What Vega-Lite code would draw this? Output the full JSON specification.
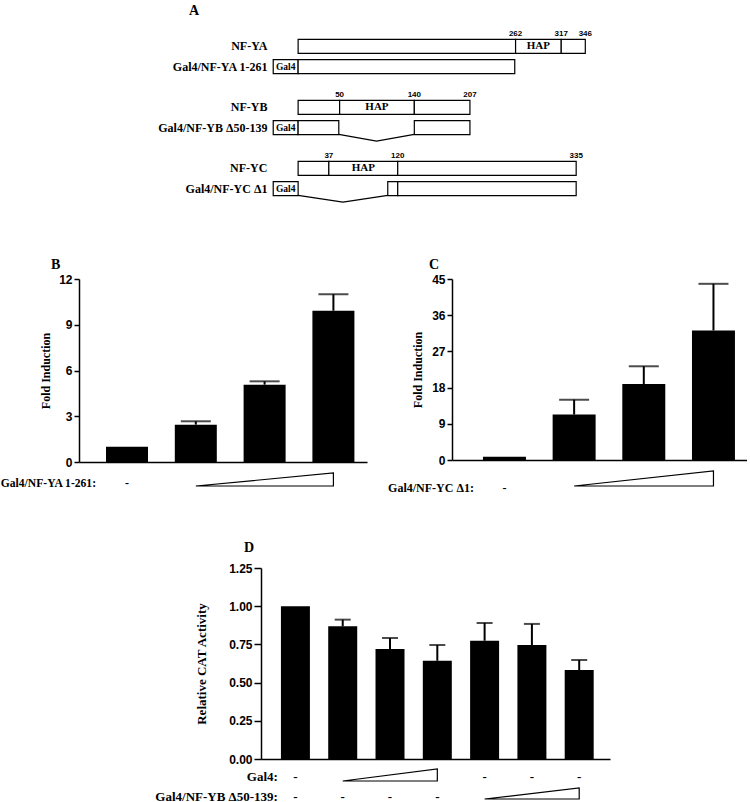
{
  "$schema": "https://vega.github.io/schema/vega-lite/v6.json",
  "padding": {"left": 0, "top": 4, "right": 0, "bottom": 0},
  "background": "white",
  "config": {
    "view": {"stroke": null},
    "axis": {"domainColor": "black", "tickColor": "black", "labelColor": "black", "titleColor": "black", "grid": false, "labelOverlap": false, "labelFont": "Liberation Sans", "labelFontWeight": "bold", "labelFontSize": 12, "titleFont": "Liberation Serif", "titleFontWeight": "bold", "titleFontSize": 12, "domainWidth": 1.5, "tickWidth": 1.5, "tickSize": 5, "labelPadding": 2},
    "title": {"font": "Liberation Serif", "fontWeight": "bold", "fontSize": 14, "color": "black", "anchor": "start", "frame": "group", "baseline": "alphabetic"},
    "text": {"font": "Liberation Serif", "fontWeight": "bold", "color": "black"}
  },
  "datasets": {
    "segments": [
      {"c": "NF-YA", "lane": 1, "start": 0, "end": 262},
      {"c": "NF-YA", "lane": 1, "start": 262, "end": 317},
      {"c": "NF-YA", "lane": 1, "start": 317, "end": 346},
      {"c": "Gal4/NF-YA 1-261", "lane": 2, "start": -30, "end": 0},
      {"c": "Gal4/NF-YA 1-261", "lane": 2, "start": 0, "end": 261},
      {"c": "NF-YB", "lane": 4, "start": 0, "end": 50},
      {"c": "NF-YB", "lane": 4, "start": 50, "end": 140},
      {"c": "NF-YB", "lane": 4, "start": 140, "end": 207},
      {"c": "Gal4/NF-YB Δ50-139", "lane": 5, "start": -30, "end": 0},
      {"c": "Gal4/NF-YB Δ50-139", "lane": 5, "start": 0, "end": 49},
      {"c": "Gal4/NF-YB Δ50-139", "lane": 5, "start": 140, "end": 207},
      {"c": "NF-YC", "lane": 7, "start": 0, "end": 37},
      {"c": "NF-YC", "lane": 7, "start": 37, "end": 120},
      {"c": "NF-YC", "lane": 7, "start": 120, "end": 335},
      {"c": "Gal4/NF-YC Δ1", "lane": 8, "start": -30, "end": 0},
      {"c": "Gal4/NF-YC Δ1", "lane": 8, "start": 108, "end": 120},
      {"c": "Gal4/NF-YC Δ1", "lane": 8, "start": 120, "end": 335}
    ],
    "cuts": [
      {"c": "YB", "aa": 49, "y": 5.33}, {"c": "YB", "aa": 94.5, "y": 5.66}, {"c": "YB", "aa": 140, "y": 5.33},
      {"c": "YC", "aa": 0, "y": 8.33}, {"c": "YC", "aa": 54, "y": 8.66}, {"c": "YC", "aa": 108, "y": 8.33}
    ],
    "names": [
      {"lane": 1, "name": "NF-YA"}, {"lane": 2, "name": "Gal4/NF-YA 1-261"},
      {"lane": 4, "name": "NF-YB"}, {"lane": 5, "name": "Gal4/NF-YB Δ50-139"},
      {"lane": 7, "name": "NF-YC"}, {"lane": 8, "name": "Gal4/NF-YC Δ1"}
    ],
    "positions": [
      {"lane": 1, "aa": 262, "label": "262"}, {"lane": 1, "aa": 317, "label": "317"}, {"lane": 1, "aa": 346, "label": "346"},
      {"lane": 4, "aa": 50, "label": "50"}, {"lane": 4, "aa": 140, "label": "140"}, {"lane": 4, "aa": 207, "label": "207"},
      {"lane": 7, "aa": 37, "label": "37"}, {"lane": 7, "aa": 120, "label": "120"}, {"lane": 7, "aa": 335, "label": "335"}
    ],
    "domains": [
      {"lane": 1, "aa": 289.5, "label": "HAP"}, {"lane": 4, "aa": 95, "label": "HAP"}, {"lane": 7, "aa": 78.5, "label": "HAP"}
    ],
    "gal4": [
      {"lane": 2, "aa": -15, "label": "Gal4"}, {"lane": 5, "aa": -15, "label": "Gal4"}, {"lane": 8, "aa": -15, "label": "Gal4"}
    ],
    "B": [
      {"cond": "1", "value": 1.0, "upper": null},
      {"cond": "2", "value": 2.45, "upper": 2.67},
      {"cond": "3", "value": 5.07, "upper": 5.29},
      {"cond": "4", "value": 9.92, "upper": 11.0}
    ],
    "C": [
      {"cond": "1", "value": 0.8, "upper": null},
      {"cond": "2", "value": 11.3, "upper": 15.0},
      {"cond": "3", "value": 18.9, "upper": 23.3},
      {"cond": "4", "value": 32.2, "upper": 43.8}
    ],
    "D": [
      {"cond": "1", "value": 1.0, "upper": null},
      {"cond": "2", "value": 0.868, "upper": 0.912},
      {"cond": "3", "value": 0.72, "upper": 0.792},
      {"cond": "4", "value": 0.643, "upper": 0.746},
      {"cond": "5", "value": 0.774, "upper": 0.89},
      {"cond": "6", "value": 0.746, "upper": 0.884},
      {"cond": "7", "value": 0.582, "upper": 0.648}
    ],
    "wedgeBC": [{"cond": "2", "level": 0}, {"cond": "4", "level": 1}],
    "wedgeD1": [{"cond": "2", "level": 0}, {"cond": "4", "level": 1}],
    "wedgeD2": [{"cond": "5", "level": 0}, {"cond": "7", "level": 1}],
    "minusB": [{"cond": "1", "sign": "-"}],
    "minusD1": [{"cond": "1", "sign": "-"}, {"cond": "5", "sign": "-"}, {"cond": "6", "sign": "-"}, {"cond": "7", "sign": "-"}],
    "minusD2": [{"cond": "1", "sign": "-"}, {"cond": "2", "sign": "-"}, {"cond": "3", "sign": "-"}, {"cond": "4", "sign": "-"}],
    "labB": [{"cond": "1", "label": "Gal4/NF-YA 1-261:"}],
    "labC": [{"cond": "1", "label": "Gal4/NF-YC Δ1:"}],
    "labD1": [{"cond": "1", "label": "Gal4:"}],
    "labD2": [{"cond": "1", "label": "Gal4/NF-YB  Δ50-139:"}]
  },
  "bounds": "flush",
  "spacing": 20,
  "resolve": {"scale": {"x": "independent", "y": "independent"}},
  "vconcat": [
    {
      "width": 540,
      "height": 238,
      "title": {"text": "A", "dx": 110, "offset": 3},
      "layer": [
        {
          "data": {"name": "segments"},
          "mark": {"type": "bar", "size": 14, "fill": "white", "stroke": "black", "strokeWidth": 1.2},
          "encoding": {
            "x": {"field": "start", "type": "quantitative", "scale": {"domain": [-264, 386.6], "nice": false, "zero": false}, "axis": null},
            "x2": {"field": "end"},
            "y": {"field": "lane", "type": "quantitative", "scale": {"domain": [0, 11.216], "reverse": true, "nice": false, "zero": false}, "axis": null}
          }
        },
        {
          "data": {"name": "cuts"},
          "mark": {"type": "line", "stroke": "black", "strokeWidth": 1.2},
          "encoding": {
            "x": {"field": "aa", "type": "quantitative"},
            "y": {"field": "y", "type": "quantitative"},
            "detail": {"field": "c"}
          }
        },
        {
          "data": {"name": "names"},
          "mark": {"type": "text", "align": "right", "baseline": "middle", "fontSize": 12},
          "encoding": {
            "x": {"datum": -37},
            "y": {"field": "lane", "type": "quantitative"},
            "text": {"field": "name"}
          }
        },
        {
          "data": {"name": "positions"},
          "mark": {"type": "text", "align": "center", "baseline": "alphabetic", "dy": -10, "fontSize": 8, "font": "Liberation Sans"},
          "encoding": {
            "x": {"field": "aa", "type": "quantitative"},
            "y": {"field": "lane", "type": "quantitative"},
            "text": {"field": "label"}
          }
        },
        {
          "data": {"name": "domains"},
          "mark": {"type": "text", "align": "center", "baseline": "middle", "fontSize": 11},
          "encoding": {
            "x": {"field": "aa", "type": "quantitative"},
            "y": {"field": "lane", "type": "quantitative"},
            "text": {"field": "label"}
          }
        },
        {
          "data": {"name": "gal4"},
          "mark": {"type": "text", "align": "center", "baseline": "middle", "fontSize": 9.5},
          "encoding": {
            "x": {"field": "aa", "type": "quantitative"},
            "y": {"field": "lane", "type": "quantitative"},
            "text": {"field": "label"}
          }
        }
      ]
    },
    {
      "bounds": "flush",
      "spacing": 85,
      "resolve": {"scale": {"x": "independent", "y": "independent"}},
      "hconcat": [
        {
          "width": 288,
          "height": 183,
          "title": {"text": "B", "dx": -28, "offset": 1},
          "encoding": {
            "x": {"field": "cond", "type": "nominal", "bandPosition": 0.5, "scale": {"type": "band", "domain": ["1", "2", "3", "4"], "paddingInner": 0.3895, "paddingOuter": 0.2878, "align": 0.682}, "axis": {"labels": false, "ticks": false, "title": null}}
          },
          "resolve": {"scale": {"y": "independent"}},
          "layer": [
            {
              "data": {"name": "B"},
              "layer": [
                {
                  "mark": {"type": "bar", "color": "black"},
                  "encoding": {"y": {"field": "value", "type": "quantitative", "title": "Fold Induction", "scale": {"domain": [0, 12], "nice": false}, "axis": {"values": [0, 3, 6, 9, 12], "labelOverlap": false, "titlePadding": 6}}}
                },
                {
                  "transform": [{"filter": "datum.upper != null"}],
                  "mark": {"type": "rule", "color": "black", "strokeWidth": 2},
                  "encoding": {"y": {"field": "value", "type": "quantitative", "title": "Fold Induction"}, "y2": {"field": "upper"}}
                },
                {
                  "transform": [{"filter": "datum.upper != null"}],
                  "mark": {"type": "tick", "color": "black", "size": 30, "thickness": 2},
                  "encoding": {"y": {"field": "upper", "type": "quantitative", "title": "Fold Induction"}}
                }
              ]
            },
            {
              "layer": [
                {
                  "data": {"name": "wedgeBC"},
                  "mark": {"type": "area", "fill": "white", "stroke": "black", "strokeWidth": 1.2},
                  "encoding": {
                    "y": {"field": "level", "type": "quantitative", "scale": {"domain": [1.846, 15.923], "nice": false, "zero": false}, "axis": null},
                    "y2": {"datum": 0}
                  }
                },
                {
                  "data": {"name": "minusB"},
                  "mark": {"type": "text", "baseline": "alphabetic", "fontSize": 12},
                  "encoding": {"y": {"datum": -0.08, "type": "quantitative"}, "text": {"field": "sign"}}
                },
                {
                  "data": {"name": "labB"},
                  "mark": {"type": "text", "baseline": "alphabetic", "align": "right", "dx": -31, "fontSize": 11.6},
                  "encoding": {"y": {"datum": -0.08, "type": "quantitative"}, "text": {"field": "label"}}
                }
              ]
            }
          ]
        },
        {
          "width": 295,
          "height": 181,
          "title": {"text": "C", "dx": -23, "offset": 1},
          "encoding": {
            "x": {"field": "cond", "type": "nominal", "bandPosition": 0.5, "scale": {"type": "band", "domain": ["1", "2", "3", "4"], "paddingInner": 0.383, "paddingOuter": 0.3087, "align": 0.72}, "axis": {"labels": false, "ticks": false, "title": null}}
          },
          "resolve": {"scale": {"y": "independent"}},
          "layer": [
            {
              "data": {"name": "C"},
              "layer": [
                {
                  "mark": {"type": "bar", "color": "black"},
                  "encoding": {"y": {"field": "value", "type": "quantitative", "title": "Fold Induction", "scale": {"domain": [0, 45], "nice": false}, "axis": {"values": [0, 9, 18, 27, 36, 45], "labelOverlap": false, "tickCount": 6, "titlePadding": 7}}}
                },
                {
                  "transform": [{"filter": "datum.upper != null"}],
                  "mark": {"type": "rule", "color": "black", "strokeWidth": 2},
                  "encoding": {"y": {"field": "value", "type": "quantitative", "title": "Fold Induction"}, "y2": {"field": "upper"}}
                },
                {
                  "transform": [{"filter": "datum.upper != null"}],
                  "mark": {"type": "tick", "color": "black", "size": 30, "thickness": 2},
                  "encoding": {"y": {"field": "upper", "type": "quantitative", "title": "Fold Induction"}}
                }
              ]
            },
            {
              "layer": [
                {
                  "data": {"name": "wedgeBC"},
                  "mark": {"type": "area", "fill": "white", "stroke": "black", "strokeWidth": 1.2},
                  "encoding": {
                    "y": {"field": "level", "type": "quantitative", "scale": {"domain": [1.7333, 13.8], "nice": false, "zero": false}, "axis": null},
                    "y2": {"datum": 0}
                  }
                },
                {
                  "data": {"name": "minusB"},
                  "mark": {"type": "text", "baseline": "alphabetic", "fontSize": 12},
                  "encoding": {"y": {"datum": -0.37, "type": "quantitative"}, "text": {"field": "sign"}}
                },
                {
                  "data": {"name": "labC"},
                  "mark": {"type": "text", "baseline": "alphabetic", "align": "right", "dx": -30.5, "fontSize": 12},
                  "encoding": {"y": {"datum": -0.37, "type": "quantitative"}, "text": {"field": "label"}}
                }
              ]
            }
          ]
        }
      ]
    },
    {
      "width": 1,
      "height": 249,
      "data": {"values": []},
      "mark": {"type": "point", "opacity": 0},
      "encoding": {}
    },
    {
      "bounds": "flush",
      "spacing": 0,
      "resolve": {"scale": {"x": "independent", "y": "independent"}},
      "hconcat": [
        {
          "width": 182,
          "height": 1,
          "data": {"values": []},
          "mark": {"type": "point", "opacity": 0},
          "encoding": {}
        },
        {
          "width": 349,
          "height": 191,
          "title": {"text": "D", "dx": -17, "offset": 7},
          "encoding": {
            "x": {"field": "cond", "type": "nominal", "bandPosition": 0.5, "scale": {"type": "band", "domain": ["1", "2", "3", "4", "5", "6", "7"], "paddingInner": 0.387, "paddingOuter": 0.383, "align": 0.55}, "axis": {"labels": false, "ticks": false, "title": null}}
          },
          "resolve": {"scale": {"y": "independent"}},
          "layer": [
            {
              "data": {"name": "D"},
              "layer": [
                {
                  "mark": {"type": "bar", "color": "black"},
                  "encoding": {"y": {"field": "value", "type": "quantitative", "title": "Relative CAT Activity", "scale": {"domain": [0, 1.25], "nice": false}, "axis": {"values": [0, 0.25, 0.5, 0.75, 1, 1.25], "labelOverlap": false, "tickCount": 6, "format": ".2f", "tickSize": 7, "titleFontSize": 13, "titlePadding": 20}}}
                },
                {
                  "transform": [{"filter": "datum.upper != null"}],
                  "mark": {"type": "rule", "color": "black", "strokeWidth": 2},
                  "encoding": {"y": {"field": "value", "type": "quantitative", "title": "Relative CAT Activity"}, "y2": {"field": "upper"}}
                },
                {
                  "transform": [{"filter": "datum.upper != null"}],
                  "mark": {"type": "tick", "color": "black", "size": 16, "thickness": 2},
                  "encoding": {"y": {"field": "upper", "type": "quantitative", "title": "Relative CAT Activity"}}
                }
              ]
            },
            {
              "layer": [
                {
                  "data": {"name": "wedgeD1"},
                  "mark": {"type": "area", "fill": "white", "stroke": "black", "strokeWidth": 1.2},
                  "encoding": {
                    "y": {"field": "level", "type": "quantitative", "scale": {"domain": [1.8333, 17.75], "nice": false, "zero": false}, "axis": null},
                    "y2": {"datum": 0}
                  }
                },
                {
                  "data": {"name": "minusD1"},
                  "mark": {"type": "text", "baseline": "alphabetic", "fontSize": 13},
                  "encoding": {"y": {"datum": -0.04, "type": "quantitative"}, "text": {"field": "sign"}}
                },
                {
                  "data": {"name": "labD1"},
                  "mark": {"type": "text", "baseline": "alphabetic", "align": "right", "dx": -17.5, "fontSize": 13},
                  "encoding": {"y": {"datum": -0.04, "type": "quantitative"}, "text": {"field": "label"}}
                }
              ]
            },
            {
              "layer": [
                {
                  "data": {"name": "wedgeD2"},
                  "mark": {"type": "area", "fill": "white", "stroke": "black", "strokeWidth": 1.2},
                  "encoding": {
                    "y": {"field": "level", "type": "quantitative", "scale": {"domain": [3.636, 21.0], "nice": false, "zero": false}, "axis": null},
                    "y2": {"datum": 0}
                  }
                },
                {
                  "data": {"name": "minusD2"},
                  "mark": {"type": "text", "baseline": "alphabetic", "fontSize": 13},
                  "encoding": {"y": {"datum": -0.14, "type": "quantitative"}, "text": {"field": "sign"}}
                },
                {
                  "data": {"name": "labD2"},
                  "mark": {"type": "text", "baseline": "alphabetic", "align": "right", "dx": -17.5, "fontSize": 13},
                  "encoding": {"y": {"datum": -0.14, "type": "quantitative"}, "text": {"field": "label"}}
                }
              ]
            }
          ]
        }
      ]
    }
  ]
}
